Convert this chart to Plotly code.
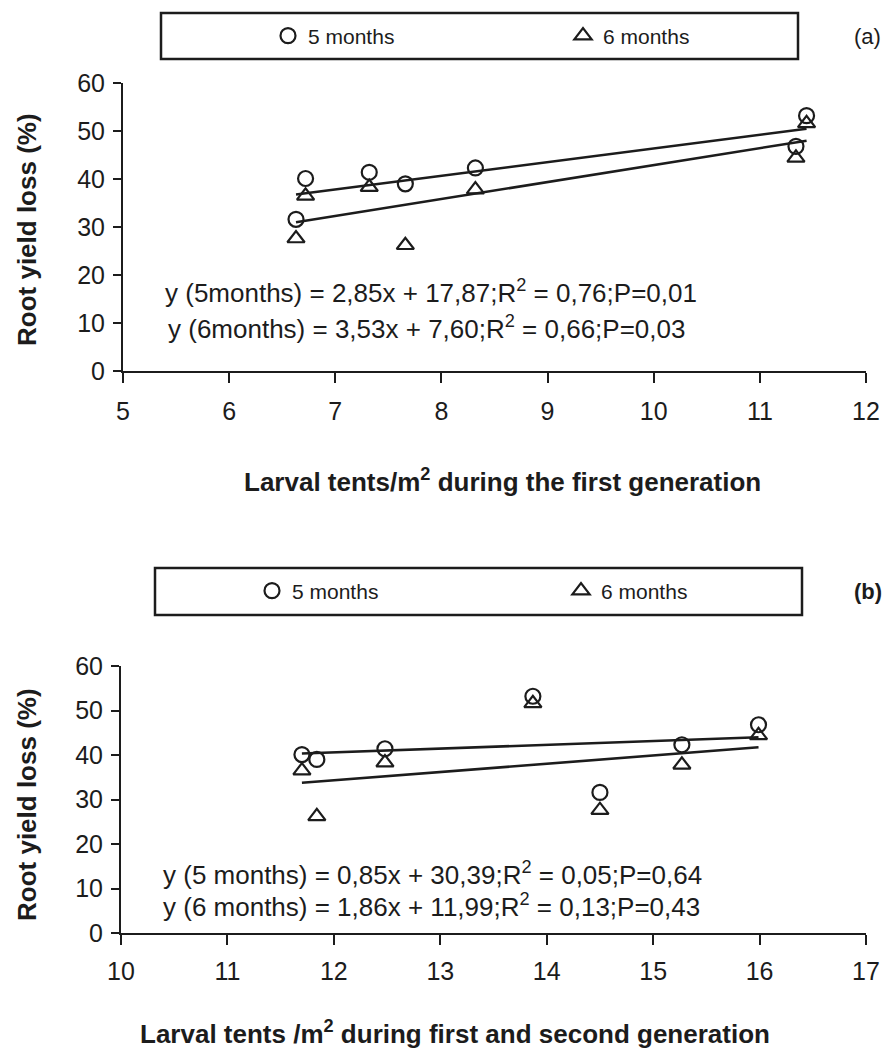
import plotly.graph_objects as go

# ---------------- data ----------------
larval_first_gen = [6.63, 6.72, 7.32, 7.66, 8.32, 11.34, 11.44]
larval_first_second_gen = [14.50, 11.70, 12.48, 11.84, 15.27, 15.99, 13.87]
loss_5_months = [31.6, 40.1, 41.4, 39.0, 42.3, 46.8, 53.2]
loss_6_months = [27.6, 36.5, 38.3, 26.2, 37.8, 44.4, 51.6]

series_names = ["5 months", "6 months"]
fit_a_slope = [2.85, 3.53]
fit_a_intercept = [17.87, 7.60]
fit_b_slope = [0.85, 1.86]
fit_b_intercept = [30.39, 11.99]

eq_a = ["y (5months) = 2,85x + 17,87;R<sup>2</sup> = 0,76;P=0,01",
        "y (6months) = 3,53x + 7,60;R<sup>2</sup> = 0,66;P=0,03"]
eq_b = ["y (5 months) = 0,85x + 30,39;R<sup>2</sup> = 0,05;P=0,64",
        "y (6 months) = 1,86x + 11,99;R<sup>2</sup> = 0,13;P=0,43"]

x_ticks_a = [5, 6, 7, 8, 9, 10, 11, 12]
x_ticks_b = [10, 11, 12, 13, 14, 15, 16, 17]
y_ticks = [0, 10, 20, 30, 40, 50, 60]

y_title = "Root yield loss (%)"
x_title_a = "Larval tents/m<sup>2</sup> during the first generation"
x_title_b = "Larval tents /m<sup>2</sup> during first and second generation"
panel_labels = ["(a)", "<b>(b)</b>"]

# ---------------- figure ----------------
W, H = 884, 1048
INK = "#1c1c1c"
FONT = "Liberation Sans, Arial, sans-serif"


def px(x):
    return x / W


def py(y):
    return 1 - y / H


fig = go.Figure()
symbols = ["circle-open", "triangle-up-open"]
series_y = [loss_5_months, loss_6_months]

panels = [
    (larval_first_gen, fit_a_slope, fit_a_intercept, "x", "y", "legend"),
    (larval_first_second_gen, fit_b_slope, fit_b_intercept, "x2", "y2", "legend2"),
]

for xs, slopes, intercepts, xa, ya, lg in panels:
    for i in range(2):
        fig.add_trace(go.Scatter(
            x=xs, y=series_y[i], mode="markers", name=series_names[i],
            marker=dict(symbol=symbols[i], size=15, color=INK,
                        line=dict(width=2.2, color=INK)),
            xaxis=xa, yaxis=ya, legend=lg, showlegend=True))
    for i in range(2):
        x0, x1 = min(xs), max(xs)
        fig.add_trace(go.Scatter(
            x=[x0, x1], y=[slopes[i] * x0 + intercepts[i], slopes[i] * x1 + intercepts[i]],
            mode="lines", line=dict(color=INK, width=2.6),
            xaxis=xa, yaxis=ya, showlegend=False, hoverinfo="skip"))

axis_common = dict(showline=True, linewidth=2, linecolor=INK, showgrid=False,
                   zeroline=False, ticks="outside", tickwidth=2, tickcolor=INK,
                   tickfont=dict(family=FONT, size=25, color=INK))

legend_common = dict(orientation="h", xanchor="left", yanchor="middle",
                     entrywidthmode="pixels", itemwidth=30,
                     bgcolor="rgba(0,0,0,0)", borderwidth=0,
                     font=dict(family=FONT, size=21, color=INK))

fig.update_layout(
    width=W, height=H, margin=dict(l=0, r=0, t=0, b=0, autoexpand=False),
    paper_bgcolor="white", plot_bgcolor="white",
    font=dict(family=FONT, color=INK),
    xaxis=dict(domain=[px(123), px(866)], range=[5, 12], tickvals=x_ticks_a,
               ticklen=10, ticklabelstandoff=7, anchor="y", **axis_common),
    yaxis=dict(domain=[py(371), py(83)], range=[0, 60], tickvals=y_ticks,
               ticklen=8, ticklabelstandoff=3, anchor="x", **axis_common),
    xaxis2=dict(domain=[px(121), px(866)], range=[10, 17], tickvals=x_ticks_b,
                ticklen=10, ticklabelstandoff=5, anchor="y2", **axis_common),
    yaxis2=dict(domain=[py(933), py(666)], range=[0, 60], tickvals=y_ticks,
                ticklen=8, ticklabelstandoff=3, anchor="x2", **axis_common),
    legend=dict(x=px(268), y=py(36), entrywidth=250, **legend_common),
    legend2=dict(x=px(252), y=py(591), entrywidth=264, **legend_common),
    showlegend=True,
)

# legend frames
fig.add_shape(type="rect", xref="paper", yref="paper",
              x0=px(161), x1=px(798), y0=py(59), y1=py(13),
              line=dict(color=INK, width=2.5), fillcolor="rgba(0,0,0,0)")
fig.add_shape(type="rect", xref="paper", yref="paper",
              x0=px(155), x1=px(802), y0=py(615), y1=py(568),
              line=dict(color=INK, width=2.5), fillcolor="rgba(0,0,0,0)")

ann = []
# panel labels
ann.append(dict(text=panel_labels[0], x=px(883), y=py(36), xanchor="right", yanchor="middle",
                font=dict(size=22)))
ann.append(dict(text=panel_labels[1], x=px(884), y=py(591), xanchor="right", yanchor="middle",
                font=dict(size=22)))
# y titles
for yc in (230, 805):
    ann.append(dict(text="<b>" + y_title + "</b>", x=px(27), y=py(yc), textangle=-90,
                    xanchor="center", yanchor="middle", font=dict(size=26)))
# x titles
ann.append(dict(text="<b>" + x_title_a + "</b>", x=px(502), y=py(480), xanchor="center",
                yanchor="middle", font=dict(size=26)))
ann.append(dict(text="<b>" + x_title_b + "</b>", x=px(455), y=py(1032), xanchor="center",
                yanchor="middle", font=dict(size=26)))
# equations
for t, x0, y0 in zip(eq_a, [163, 166], [292, 327]):
    ann.append(dict(text=t, x=px(x0), y=py(y0), xanchor="left", yanchor="middle",
                    font=dict(size=26)))
for t, y0 in zip(eq_b, [873, 905]):
    ann.append(dict(text=t, x=px(161), y=py(y0), xanchor="left", yanchor="middle",
                    font=dict(size=26)))

for a in ann:
    a.update(xref="paper", yref="paper", showarrow=False)
    a["font"].update(family=FONT, color=INK)
fig.update_layout(annotations=ann)

fig.write_html("out.html")
